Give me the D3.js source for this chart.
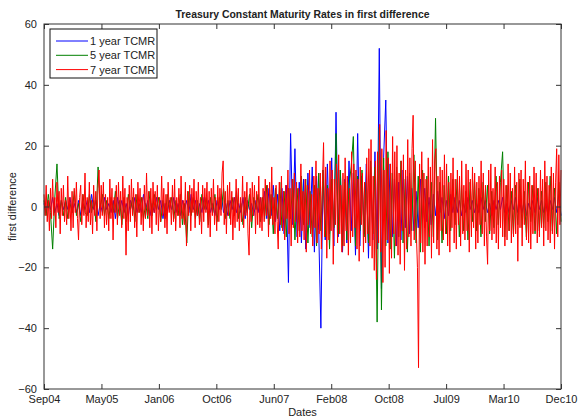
<!DOCTYPE html>
<html>
<head>
<meta charset="utf-8">
<script src="https://cdn.jsdelivr.net/npm/d3@7"></script>
<style>
  body { margin: 0; background: #fff; }
  text { font-family: Arial, "Liberation Sans", sans-serif; fill: #222; }
  .axis path, .axis line { stroke: #333; }
</style>
</head>
<body>
<div id="graph"></div>
<script>
// tick labels along the date axis (evenly spaced, matlab datetick style)
var tickLabels = ["Sep04","May05","Jan06","Oct06","Jun07","Feb08","Oct08","Jul09","Mar10","Dec10"];
var yTicks = [-60,-40,-20,0,20,40,60];
var seriesNames = ["1 year TCMR","5 year TCMR","7 year TCMR"];

// first differences
var tcmr1 = [
  1,-2,2,-1,3,-2,1,-3,2,-1,
  2,-1,3,-2,1,-2,2,-3,1,-1,
  2,-2,4,-1,2,-3,1,-2,3,-1,
  1,-2,2,-4,3,-1,2,-2,1,-3,
  2,-1,3,-2,1,-2,4,-1,2,-3,
  1,-2,3,-1,2,-4,1,-2,2,-1,
  3,-2,1,-3,2,-1,2,-2,4,-1,
  2,-3,1,-2,3,-1,2,-2,1,-3,
  2,-1,4,-2,1,-3,2,-1,3,-2,
  1,-2,3,-4,2,-1,1,-3,2,-2,
  3,-2,5,-4,6,-3,7,-5,4,-8,
  6,-9,7,-25,24,-6,19,-10,8,-12,
  9,-14,11,-7,13,-15,10,-8,-40,12,
  -11,14,-9,16,-13,31,-10,12,-15,9,
  -12,15,-8,11,-16,24,-13,10,-9,14,
  -17,13,-11,18,-14,52,-27,16,35,-12,
  14,-10,9,-13,8,-11,12,-7,10,-9,
  6,-8,5,-7,9,-4,6,-5,3,-6,
  4,-3,5,-2,3,-4,2,-3,4,-2,
  3,-2,2,-3,1,-2,3,-1,2,-2,
  1,-2,3,-1,2,-2,1,-3,2,-1,
  2,-1,3,-2,1,-2,2,-1,3,-2,
  1,-2,2,-3,1,-1,2,-2,3,-1,
  2,-2,1,-3,2,-1,3,-2,4,-3
];
var tcmr5 = [
  2,-3,4,-2,-14,3,14,-4,2,-3,
  3,-4,1,-2,5,-3,1,-5,4,-2,
  -3,4,-2,2,-5,13,-1,4,-3,2,
  -4,3,-2,5,-4,2,-6,3,-5,4,
  -1,3,-5,4,-2,3,-4,1,-4,5,
  -3,4,-1,3,-5,2,-4,4,-1,3,
  -4,2,-3,4,-6,1,-12,5,-3,3,
  -4,2,-5,4,-1,3,-6,3,-2,4,
  -5,3,-1,6,-4,2,-4,3,-3,5,
  -4,1,-6,3,-2,4,-7,3,-1,4,
  -5,3,-4,7,-6,4,-9,6,-4,8,
  -7,5,-10,6,-4,9,-11,6,-8,10,
  -6,9,-12,5,-10,7,-13,11,-8,12,
  -10,7,-14,9,-7,24,-9,12,-13,8,
  -11,7,13,23,-13,10,-8,12,-10,8,
  -12,15,-9,13,-38,26,-34,16,-13,18,
  -14,11,-17,13,-10,15,-12,9,-15,11,
  -8,17,-12,10,-15,12,-7,10,-13,8,
  -10,29,-11,8,-12,7,-9,10,-8,9,
  -6,9,-10,7,-8,5,-11,8,-5,9,
  -8,6,-10,8,-5,7,-9,5,-7,10,
  -6,8,18,-10,7,-8,5,-9,7,-6,
  9,-7,5,-10,8,-5,7,-9,6,-8,
  5,-7,8,-5,10,-8,6,-9,8,-5
];
var tcmr7 = [
  4,-3,7,-5,2,-8,6,-4,9,-3,
  3,-7,8,-2,5,-9,6,-3,7,-5,
  2,-6,10,-4,3,-8,5,-7,6,-2,
  8,-4,-11,3,7,-6,4,-3,11,-7,
  3,-5,8,-6,2,-9,7,-3,5,-8,
  6,12,-4,7,-3,8,-7,4,-6,3,
  -8,9,-4,6,-11,3,-2,7,-6,8,
  -3,5,-7,10,-4,6,-16,3,-8,7,
  -5,9,-3,6,-7,4,-10,8,-2,6,
  -6,3,-8,7,-4,11,-3,5,-7,6,
  -9,8,-2,5,-6,7,-8,3,-5,10,
  -3,6,-7,4,-9,8,-2,3,-6,7,
  -5,9,-8,3,-3,6,-7,10,-4,2,
  -6,8,-13,5,-3,7,-8,6,-2,9,
  -7,5,-3,8,-6,3,-9,7,-5,6,
  -2,8,-7,5,-10,6,-3,9,-6,3,
  -8,7,-5,6,-3,11,15,-6,5,-9,
  7,-3,8,-6,5,-11,3,-7,9,-5,
  6,-8,3,-5,10,-7,5,-3,8,-9,
  -16,6,-5,8,-3,7,-9,5,-6,10,
  -7,3,-8,6,-5,9,-3,7,-10,8,
  -4,13,-6,3,-9,7,-5,-14,8,-6,
  10,-8,5,-11,7,-4,12,-9,6,-13,
  9,-7,11,-5,8,-12,6,-10,14,-8,
  5,-11,9,-15,7,-6,12,-9,4,-13,
  10,-7,15,-12,6,-9,11,-14,8,21,
  -10,13,-17,6,-11,15,-8,12,-19,9,
  -6,14,-12,17,-9,7,-15,11,-13,16,
  -8,10,-16,6,-12,18,-10,14,-7,12,
  -14,9,-18,13,-6,11,-15,8,-12,16,
  -9,19,-13,22,-17,10,-21,15,-24,18,
  -12,27,-15,19,-25,12,-20,25,-11,16,
  -22,14,-17,23,-9,18,-13,20,-16,11,
  -19,15,-8,17,-21,12,-14,22,-10,16,
  -13,19,30,-11,15,-9,-20,-53,14,-12,
  18,-15,11,-19,9,-13,16,-10,13,-17,
  22,-12,15,19,-14,10,-16,13,-8,12,
  -11,17,-9,14,-13,8,-15,11,-7,16,
  -12,9,-14,12,-6,10,-13,15,-9,7,
  -11,14,-8,12,-15,9,-10,13,-7,11,
  -14,8,-12,10,-6,15,-9,11,-13,7,
  -10,-19,12,-8,14,-11,6,-9,13,-12,
  8,-14,10,-7,12,-10,9,-13,7,-11,
  14,-8,11,-12,6,-10,13,-9,8,-18,
  11,-7,12,-13,9,-6,15,-11,8,-12,
  10,-14,7,-9,13,-8,11,-12,6,-10,
  12,-7,9,-13,15,-8,10,-11,7,-12,
  13,-9,11,-14,8,19,-10,17,-6,12
];
var colors = ["#0000ff","#008000","#ff0000"];

var width = 578, height = 419;
var margin = {left: 44, right: 17, top: 24, bottom: 30};
var x0 = margin.left, x1 = width - margin.right;
var y0 = height - margin.bottom, y1 = margin.top;

var chart = d3.select("#graph").append("svg")
    .attr("width", width)
    .attr("height", height);

var yScale = d3.scaleLinear().domain([-60, 60]).range([y0, y1]);
var xTicks = d3.scalePoint().domain(tickLabels).range([x0, x1]);

//Create the lines, blue first so red ends up on top
[tcmr1, tcmr5, tcmr7].forEach(function(s, k) {
  var xScale = d3.scaleLinear().domain([0, s.length - 1]).range([x0, x1]);
  var line = d3.line()
      .x(function(d, i) { return xScale(i); })
      .y(function(d) { return yScale(d); });
  chart.append("path")
      .datum(s)
      .attr("d", line)
      .attr("fill", "none")
      .attr("stroke", colors[k])
      .attr("stroke-width", 1);
});

//box
chart.append("rect")
  .attr("x", x0).attr("y", y1)
  .attr("width", x1 - x0).attr("height", y0 - y1)
  .attr("fill", "none")
  .attr("stroke", "#333");

//X axis bottom + top (inward ticks)
chart.append("g")
  .attr("class", "axis")
  .attr("transform", "translate(0," + y0 + ")")
  .call(d3.axisBottom(xTicks).tickSizeInner(-5).tickSizeOuter(0).tickPadding(6))
  .call(function(g) { g.select(".domain").remove(); })
  .selectAll("text").style("font-size", "11px");

chart.append("g")
  .attr("class", "axis")
  .attr("transform", "translate(0," + y1 + ")")
  .call(d3.axisTop(xTicks).tickSizeInner(-5).tickSizeOuter(0).tickFormat(""))
  .call(function(g) { g.select(".domain").remove(); });

//Y axis left + right
chart.append("g")
  .attr("class", "axis")
  .attr("transform", "translate(" + x0 + ",0)")
  .call(d3.axisLeft(yScale).tickValues(yTicks).tickSizeInner(-5).tickSizeOuter(0).tickPadding(7))
  .call(function(g) { g.select(".domain").remove(); })
  .selectAll("text").style("font-size", "11px");

chart.append("g")
  .attr("class", "axis")
  .attr("transform", "translate(" + x1 + ",0)")
  .call(d3.axisRight(yScale).tickValues(yTicks).tickSizeInner(-5).tickSizeOuter(0).tickFormat(""))
  .call(function(g) { g.select(".domain").remove(); });

chart.selectAll(".axis text").attr("fill", "#222");

//title and labels
chart.append("text")
  .attr("x", (x0 + x1) / 2)
  .attr("y", 18)
  .attr("text-anchor", "middle")
  .style("font-size", "11px")
  .style("font-weight", "bold")
  .attr("textLength", 254)
  .attr("lengthAdjust", "spacingAndGlyphs")
  .text("Treasury Constant Maturity Rates in first difference");

chart.append("text")
  .attr("x", (x0 + x1) / 2)
  .attr("y", 416)
  .attr("text-anchor", "middle")
  .style("font-size", "11px")
  .text("Dates");

chart.append("text")
  .attr("transform", "translate(16," + yScale(0) + ") rotate(-90)")
  .attr("text-anchor", "middle")
  .style("font-size", "11px")
  .text("first difference");

//legend
var legend = chart.append("g").attr("transform", "translate(50,29)");
legend.append("rect")
  .attr("width", 107).attr("height", 49)
  .attr("fill", "#fff").attr("stroke", "#111");
seriesNames.forEach(function(name, k) {
  var ly = 12 + k * 14.3;
  legend.append("line")
    .attr("x1", 6).attr("x2", 38)
    .attr("y1", ly).attr("y2", ly)
    .attr("stroke", colors[k]);
  legend.append("text")
    .attr("x", 40).attr("y", ly + 4)
    .style("font-size", "11px")
    .text(name);
});
</script>
</body>
</html>
